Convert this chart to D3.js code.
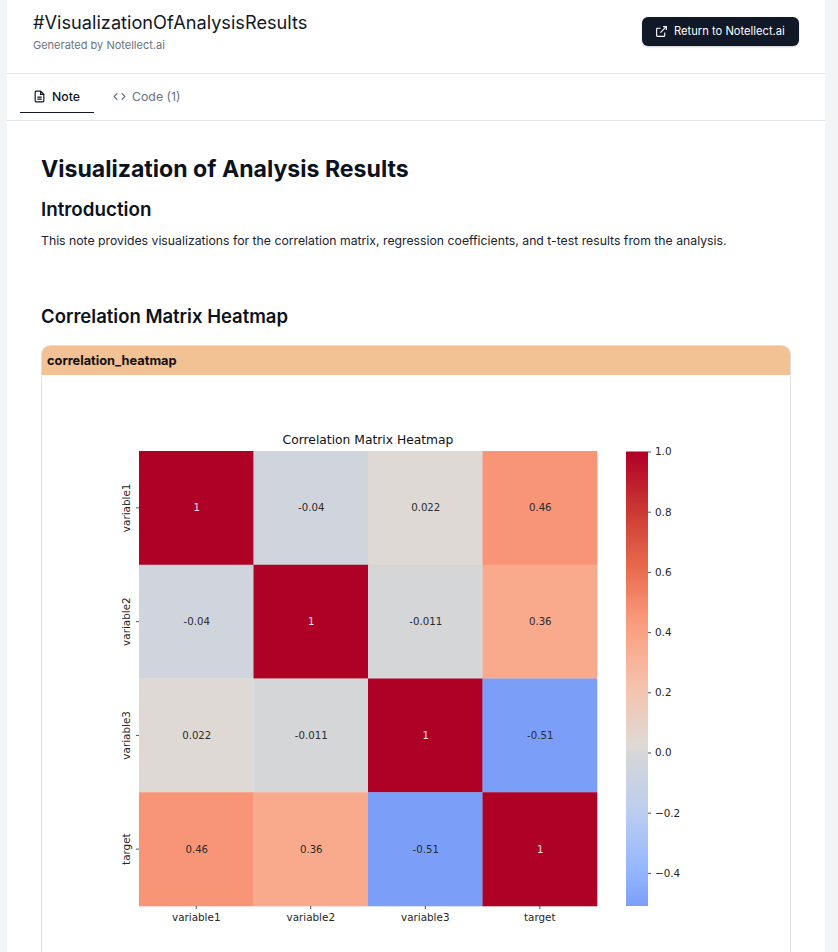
<!DOCTYPE html>
<html><head><meta charset="utf-8">
<script src="https://cdn.jsdelivr.net/npm/d3@7"></script>
<style>
html,body{margin:0;padding:0;width:838px;height:952px;overflow:hidden;background:#f3f4f6;font-family:Inter,sans-serif;color:#0b1220}
#page{position:absolute;left:7px;top:0;width:818px;height:952px;background:#fff}
.t{position:absolute;white-space:nowrap;line-height:1}
.hr{position:absolute;left:7px;width:818px;height:1px;background:#e2e5e9}
#btn{position:absolute;left:642px;top:17px;width:157px;height:29px;background:#111827;border-radius:6px;box-shadow:0 1px 2px rgba(0,0,0,.2)}
#card{position:absolute;left:41px;top:345px;width:748px;height:640px;border:1px solid #dcdfe4;border-radius:9px;background:#fff;box-sizing:content-box}
#cardh{position:absolute;left:0;top:0;width:748px;height:29px;background:#f2c194;border-radius:8px 8px 0 0}
svg.i{position:absolute;fill:none}
#chart{position:absolute;left:0;top:0}
#chart text{font-family:"DejaVu Sans",sans-serif}
</style></head><body>
<div id="page"></div>
<div class="t" style="left:33px;top:13px;font-size:18.2px;color:#111827">#VisualizationOfAnalysisResults</div>
<div class="t" style="left:33px;top:40px;font-size:11px;color:#6b7280">Generated by Notellect.ai</div>
<div id="btn"></div>
<svg class="i" style="left:655px;top:25px" width="13" height="13" viewBox="0 0 24 24" stroke="#fff" stroke-width="2"><path d="M15 3h6v6M21 3L10 14M18 14v6a1 1 0 0 1-1 1H4a1 1 0 0 1-1-1V7a1 1 0 0 1 1-1h6"/></svg>
<div class="t" style="left:674px;top:26px;font-size:11.2px;font-weight:400;color:#fff">Return to Notellect.ai</div>
<div class="hr" style="top:73px"></div>
<div class="hr" style="top:120px"></div>
<svg class="i" style="left:33px;top:90px" width="13" height="13" viewBox="0 0 24 24" stroke="#111827" stroke-width="2.2"><path d="M14 2H6a2 2 0 0 0-2 2v16a2 2 0 0 0 2 2h12a2 2 0 0 0 2-2V8zM14 2v6h6M8 13h8M8 17h8"/></svg>
<div class="t" style="left:52px;top:91px;font-size:12.3px;font-weight:500;color:#111827">Note</div>
<div style="position:absolute;left:20px;top:112px;width:74px;height:1px;background:#111827"></div>
<svg class="i" style="left:113px;top:90px" width="13" height="13" viewBox="0 0 24 24" stroke="#6b7280" stroke-width="2"><path d="M16 18l6-6-6-6M8 6l-6 6 6 6"/></svg>
<div class="t" style="left:132px;top:91px;font-size:12.3px;color:#6b7280">Code (1)</div>
<div class="t" style="left:41px;top:158px;font-size:23.1px;font-weight:700">Visualization of Analysis Results</div>
<div class="t" style="left:41px;top:201px;font-size:18.8px;font-weight:600">Introduction</div>
<div class="t" style="left:41px;top:235px;font-size:12.25px;color:#1a2230">This note provides visualizations for the correlation matrix, regression coefficients, and t-test results from the analysis.</div>
<div class="t" style="left:41px;top:307px;font-size:18.5px;font-weight:600">Correlation Matrix Heatmap</div>
<div id="card"><div id="cardh"></div></div>
<div class="t" style="left:47px;top:355px;font-size:12.8px;font-weight:700;color:#111">correlation_heatmap</div>
<svg id="chart" width="838" height="952"></svg>
<script>
const categories = ["variable1","variable2","variable3","target"];
const row1 = [1, -0.04, 0.022, 0.46];
const row2 = [-0.04, 1, -0.011, 0.36];
const row3 = [0.022, -0.011, 1, -0.51];
const row4 = [0.46, 0.36, -0.51, 1];
const rows = [row1,row2,row3,row4];
const colorStops = [-0.51,-0.4,-0.2,-0.04,0,0.022,0.2,0.36,0.46,0.6,0.8,1];
const colorValues = ["#7b9ff9","#93b5fe","#bbcdf0","#d0d5dd","#d6d6d6","#dfd9d6","#f3c5b0","#f9aa8d","#f89577","#ea6e50","#cc3a33","#af0026"];
const colorTicks = [1,0.8,0.6,0.4,0.2,0,-0.2,-0.4];
const chartTitle = "Correlation Matrix Heatmap";

const color = d3.scaleLinear().domain(colorStops).range(colorValues).interpolate(d3.interpolateRgb);
const svg = d3.select("#chart");
const x = d3.scaleBand().domain(categories).range([139,597]);
const y = d3.scaleBand().domain(categories).range([451,906]);
const cells = rows.flatMap((r,i)=>r.map((v,j)=>({v,row:categories[i],col:categories[j]})));
const ink = "#262626";

svg.append("g").selectAll("rect").data(cells).join("rect")
  .attr("x",d=>x(d.col)).attr("y",d=>y(d.row))
  .attr("width",x.bandwidth()+0.3).attr("height",y.bandwidth()+0.3)
  .attr("fill",d=>color(d.v));
svg.append("g").selectAll("text").data(cells).join("text")
  .attr("x",d=>x(d.col)+x.bandwidth()/2+0.5).attr("y",d=>y(d.row)+y.bandwidth()/2+3.5)
  .attr("text-anchor","middle").attr("font-size",10.2)
  .attr("fill",d=>d.v===1?"#f3e0e3":"#2b2b2b")
  .text(d=>d.v);

const ax = g=>{g.select(".domain").remove();g.selectAll("line").attr("stroke",ink).attr("stroke-width",0.8);g.selectAll("text").attr("fill",ink).attr("font-size",10.4);};
svg.append("g").attr("transform","translate(0,906)")
  .call(d3.axisBottom(x).tickSize(3).tickPadding(5)).attr("font-family",null).call(ax);
const ly = svg.append("g").attr("transform","translate(139,0)")
  .call(d3.axisLeft(y).tickSize(3)).attr("font-family",null).call(ax);
ly.selectAll("text").attr("transform","rotate(-90)").attr("text-anchor","middle")
  .attr("x",0).attr("y",-9).attr("dy",0);

svg.append("text").attr("x",368).attr("y",444.4).attr("text-anchor","middle")
  .attr("font-size",12.3).attr("fill","#111").text(chartTitle);

// colour bar
const cb = d3.scaleLinear().domain([1,-0.51]).range([451.5,906]);
const grad = svg.append("defs").append("linearGradient").attr("id","cbg")
  .attr("x1",0).attr("x2",0).attr("y1",0).attr("y2",1);
d3.range(0,61).forEach(i=>{
  const v = 1 - 1.51*i/60;
  grad.append("stop").attr("offset",(i/60)).attr("stop-color",color(v));
});
svg.append("rect").attr("x",626).attr("width",22).attr("y",cb(1)).attr("height",cb(-0.51)-cb(1)).attr("fill","url(#cbg)");
svg.append("g").attr("transform","translate(648,0)")
  .call(d3.axisRight(cb).tickValues(colorTicks).tickFormat(d3.format(".1f")).tickSize(3).tickPadding(4))
  .attr("font-family",null).call(ax);
</script>
</body></html>
